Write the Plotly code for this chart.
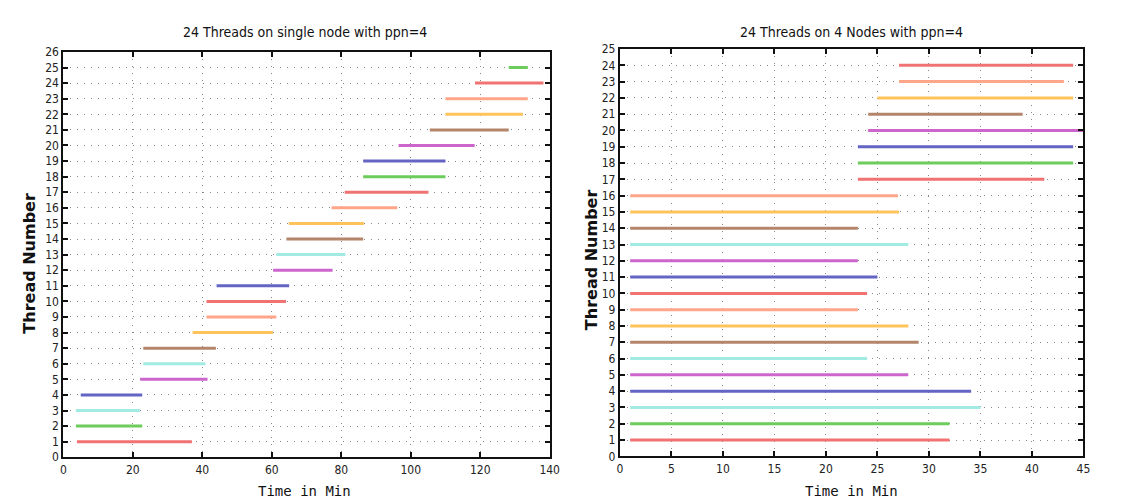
import plotly.graph_objects as go

# ---- Data: left chart (single node) ----
left_threads = list(range(1, 26))
left_start = [3.9, 3.6, 3.6, 5.0, 22.1, 23.0, 23.0, 37.2, 41.2, 41.2, 44.1, 60.4, 61.3,
              64.2, 64.9, 77.2, 81.0, 86.3, 86.3, 96.5, 105.5, 110.0, 110.0, 118.5, 128.2]
left_end = [37.0, 22.7, 22.0, 22.7, 41.5, 40.9, 43.9, 60.3, 61.3, 64.1, 65.0, 77.5, 81.2,
            86.3, 86.5, 96.1, 105.1, 110.0, 110.0, 118.4, 128.2, 132.3, 133.7, 138.2, 133.7]

# ---- Data: right chart (4 nodes) ----
right_threads = list(range(1, 25))
right_start = [1.0] * 16 + [23.1, 23.1, 23.1, 24.1, 24.1, 25.0, 27.1, 27.1]
right_end = [32.0, 32.0, 35.0, 34.1, 28.0, 24.0, 29.0, 28.0, 23.1, 24.0, 25.0, 23.1,
             28.0, 23.1, 27.1, 27.0, 41.2, 44.0, 44.0, 45.0, 39.1, 44.0, 43.1, 44.0]

left_xticks = [0, 20, 40, 60, 80, 100, 120, 140]
right_xticks = [0, 5, 10, 15, 20, 25, 30, 35, 40, 45]

# colour name per thread (cycle)
color_seq = ["red", "green", "cyan", "blue", "magenta", "cyan", "brown", "orange", "salmon",
             "red", "blue", "magenta", "cyan", "brown", "orange", "salmon",
             "red", "green", "blue", "magenta", "brown", "orange", "salmon", "red", "green"]
palette = {"red": "#f07272", "green": "#6ccc5c", "cyan": "#a2ebe3", "blue": "#6464c4",
           "magenta": "#cc66cc", "brown": "#b3856a", "orange": "#ffc35c", "salmon": "#ffa68a"}

fig = go.Figure()

for t, s, e in zip(left_threads, left_start, left_end):
    fig.add_trace(go.Scatter(x=[s, e], y=[t, t], mode="lines", xaxis="x", yaxis="y",
                             line=dict(color=palette[color_seq[t - 1]], width=3),
                             showlegend=False, hoverinfo="skip"))
for t, s, e in zip(right_threads, right_start, right_end):
    fig.add_trace(go.Scatter(x=[s, e], y=[t, t], mode="lines", xaxis="x2", yaxis="y2",
                             line=dict(color=palette[color_seq[t - 1]], width=3),
                             showlegend=False, hoverinfo="skip", cliponaxis=False))

W, H = 1123, 501
tickfont = dict(family="DejaVu Sans Condensed, Liberation Sans Narrow, DejaVu Sans", size=12, color="#222")
axcommon = dict(showline=True, linecolor="#111", linewidth=2, mirror="ticks",
                ticks="inside", ticklen=5, tickwidth=1.5, tickcolor="#111",
                showgrid=True, gridcolor="#888", griddash="1px,6px", gridwidth=1,
                zeroline=False, tickfont=tickfont)

fig.update_layout(
    width=W, height=H, margin=dict(l=0, r=0, t=0, b=0),
    paper_bgcolor="white", plot_bgcolor="white",
    xaxis=dict(domain=[53 / W, 545 / W], range=[0, 140], tickvals=left_xticks, anchor="y", **axcommon),
    yaxis=dict(domain=[46 / H, 463 / H], range=[0, 26], dtick=1, anchor="x", **axcommon),
    xaxis2=dict(domain=[616 / W, 1085 / W], range=[0, 45], tickvals=right_xticks, anchor="y2", **axcommon),
    yaxis2=dict(domain=[47 / H, 466 / H], range=[0, 25], dtick=1, anchor="x2", **axcommon),
)

titlefont = dict(family="DejaVu Sans Condensed, Liberation Sans Narrow, DejaVu Sans", size=14, color="#111")
xtfont = dict(family="DejaVu Sans Mono", size=14, color="#111")
ytfont = dict(family="DejaVu Sans", size=16, color="#111")
ann = [
    dict(text="24 Threads on single node with ppn=4", x=297 / W, y=1 - 17 / H, font=titlefont),
    dict(text="24 Threads on 4 Nodes with ppn=4", x=850 / W, y=1 - 17 / H, font=titlefont),
    dict(text="Time in Min", x=297 / W, y=1 - 490 / H, font=xtfont),
    dict(text="Time in Min", x=850 / W, y=1 - 490 / H, font=xtfont),
    dict(text="<b>Thread Number</b>", x=19 / W, y=1 - 255 / H, font=ytfont, textangle=-90),
    dict(text="<b>Thread Number</b>", x=588 / W, y=1 - 252 / H, font=ytfont, textangle=-90),
]
for a in ann:
    a.update(xref="paper", yref="paper", showarrow=False, xanchor="center", yanchor="middle")
fig.update_layout(annotations=ann)

fig.write_html("out.html")
